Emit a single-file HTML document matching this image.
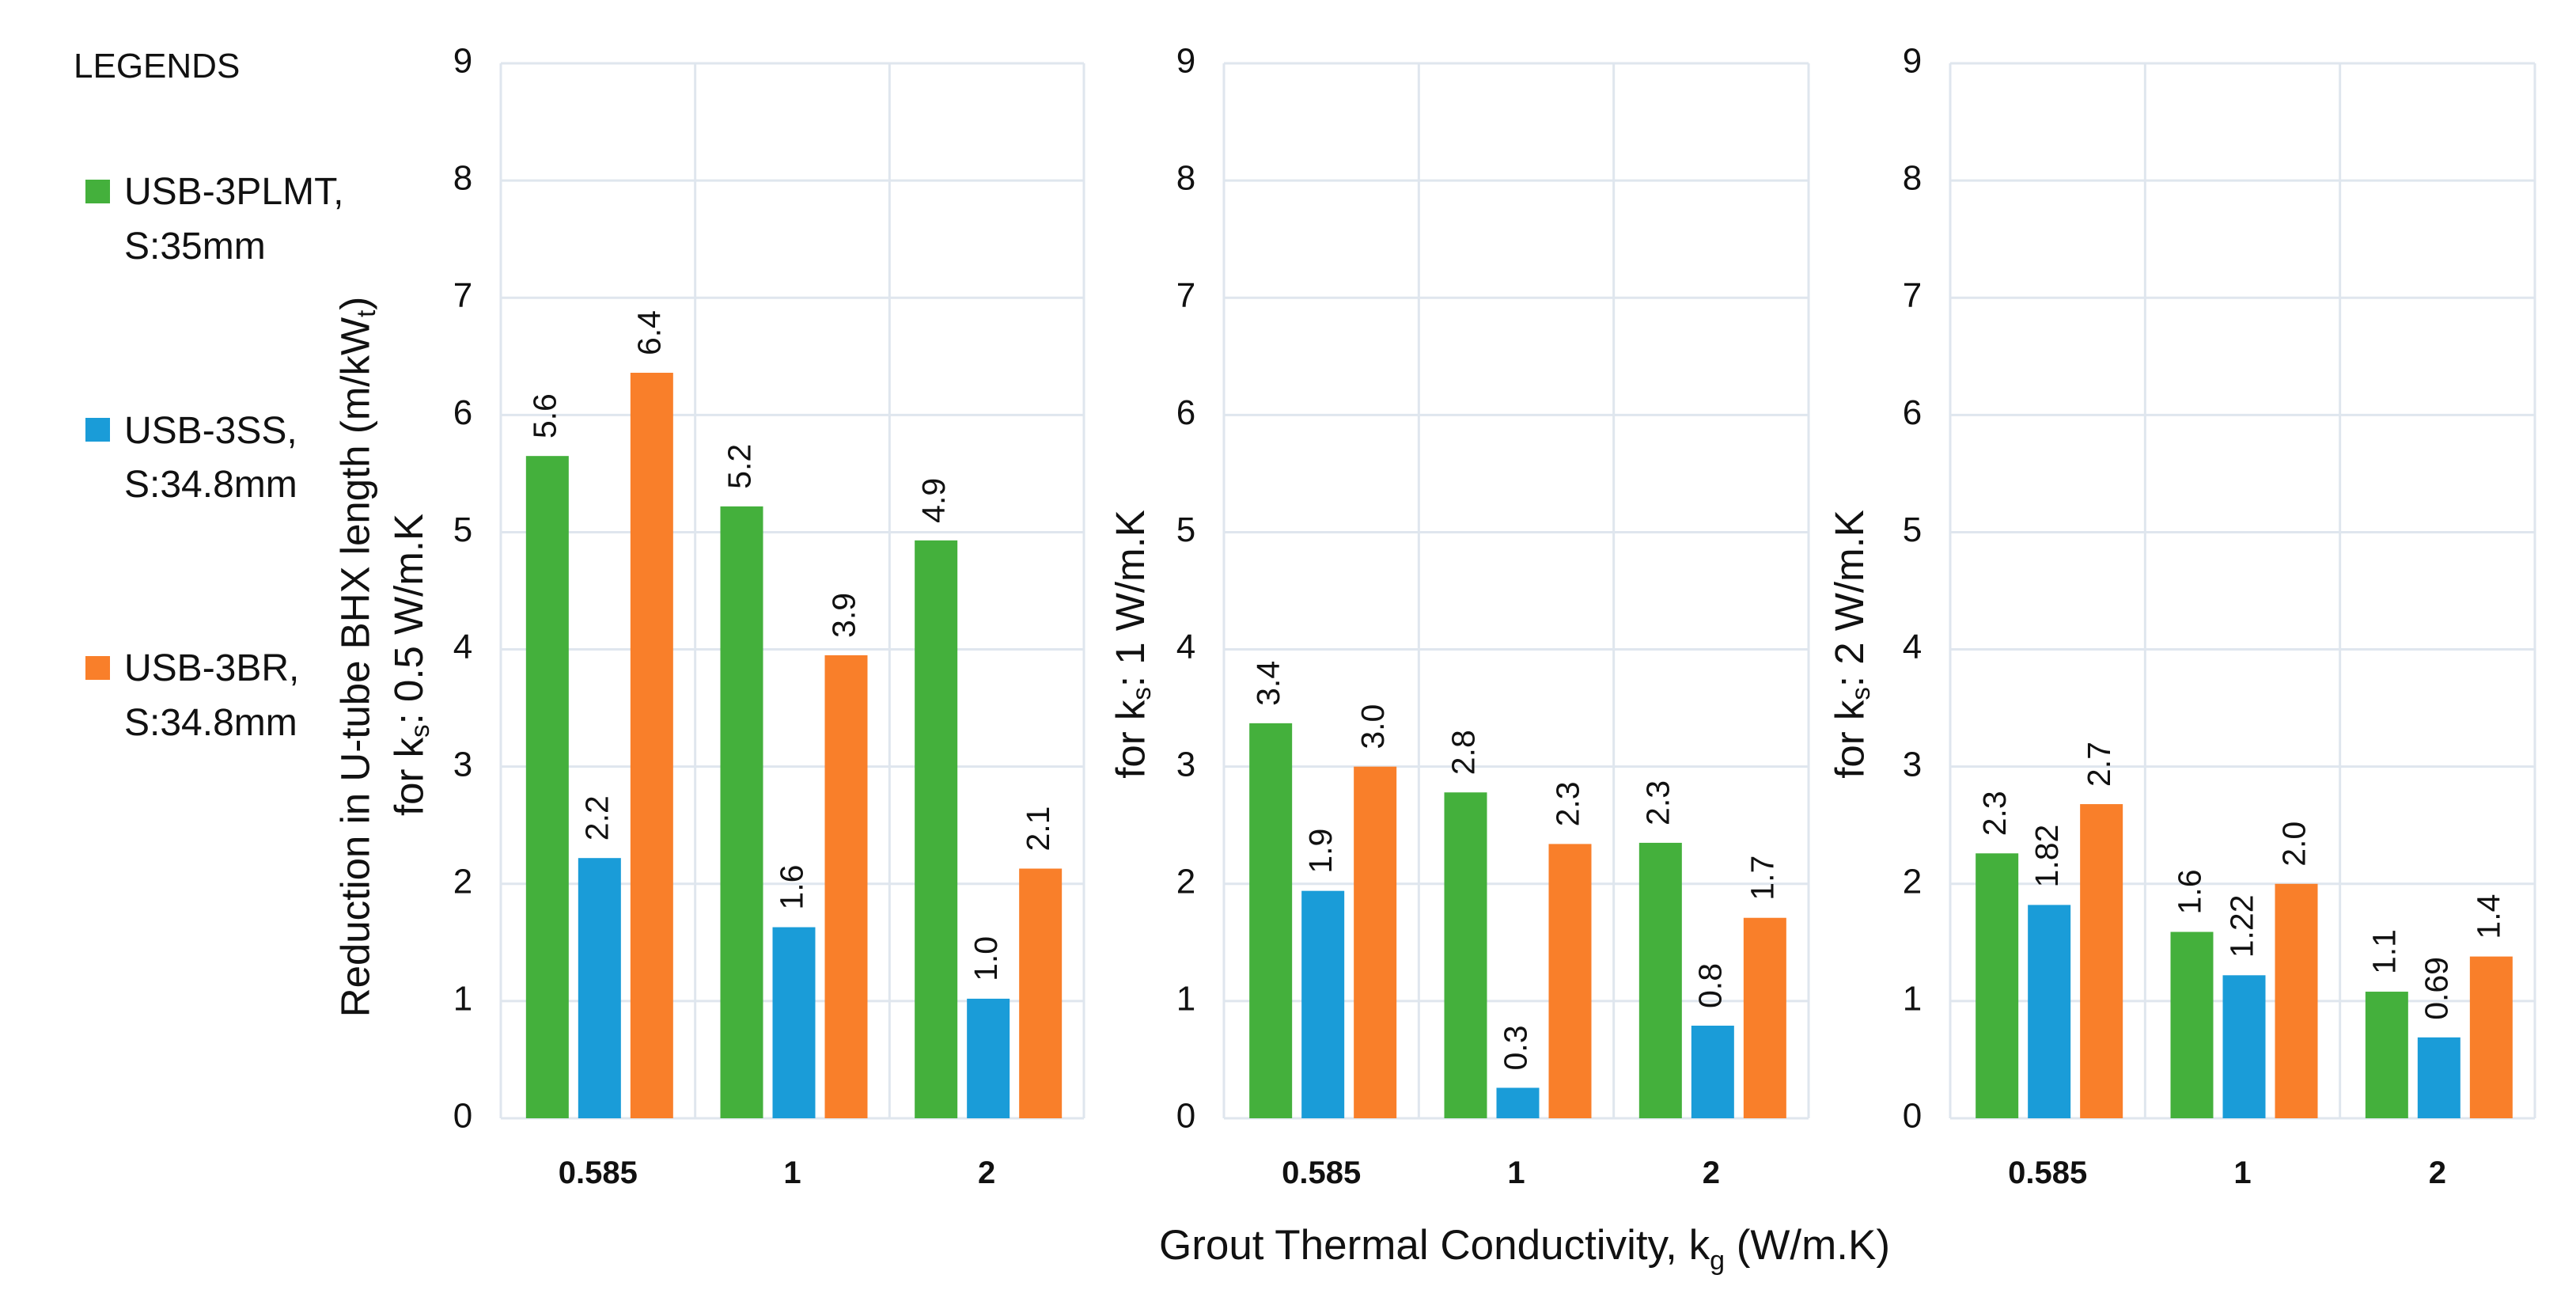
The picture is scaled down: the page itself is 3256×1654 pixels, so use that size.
<!DOCTYPE html>
<html><head><meta charset="utf-8"><style>
html,body{margin:0;padding:0;background:#fff;}
svg{display:block;font-family:"Liberation Sans","DejaVu Sans",sans-serif;}
</style></head><body>
<svg id="chart" width="3256" height="1654" viewBox="0 0 3256 1654" xmlns="http://www.w3.org/2000/svg">
<g>
 <text x="93" y="98" font-size="44" fill="#111">LEGENDS</text>
 <g>
  <rect x="108" y="227" width="31" height="30" fill="#44b03c"/>
  <text x="157" y="258" font-size="48" fill="#111">USB-3PLMT,</text>
  <text x="157" y="327" font-size="48" fill="#111">S:35mm</text>
 </g>
 <g>
  <rect x="108" y="528" width="31" height="30" fill="#1a9cd8"/>
  <text x="157" y="560" font-size="48" fill="#111">USB-3SS,</text>
  <text x="157" y="628" font-size="48" fill="#111">S:34.8mm</text>
 </g>
 <g>
  <rect x="108" y="829" width="31" height="30" fill="#f97f2a"/>
  <text x="157" y="860" font-size="48" fill="#111">USB-3BR,</text>
  <text x="157" y="929" font-size="48" fill="#111">S:34.8mm</text>
 </g>
</g>
<text x="453" y="830" font-size="51" fill="#111" text-anchor="middle" transform="rotate(-90 453 830)" dominant-baseline="middle">Reduction in U-tube BHX length (m/kW<tspan font-size="33" dy="12">t</tspan><tspan dy="-12">)</tspan></text>
<text x="521" y="840" font-size="51" fill="#111" text-anchor="middle" transform="rotate(-90 521 840)" dominant-baseline="middle">for k<tspan font-size="33" dy="12">s</tspan><tspan dy="-12">: 0.5 W/m.K</tspan></text>
<text x="1433" y="814" font-size="51" fill="#111" text-anchor="middle" transform="rotate(-90 1433 814)" dominant-baseline="middle">for k<tspan font-size="33" dy="12">s</tspan><tspan dy="-12">: 1 W/m.K</tspan></text>
<text x="2342" y="814" font-size="51" fill="#111" text-anchor="middle" transform="rotate(-90 2342 814)" dominant-baseline="middle">for k<tspan font-size="33" dy="12">s</tspan><tspan dy="-12">: 2 W/m.K</tspan></text>
<text x="1927" y="1591" font-size="53" fill="#111" text-anchor="middle">Grout Thermal Conductivity,  k<tspan font-size="34" dy="13">g</tspan><tspan dy="-13"> (W/m.K)</tspan></text>
<g id="plots"></g>
</svg>
<script>
const categories = ["0.585", "1", "2"];
const seriesNames = ["USB-3PLMT", "USB-3SS", "USB-3BR"];
const yTicks = [0,1,2,3,4,5,6,7,8,9];
const p1Green = [5.65, 5.22, 4.93];
const p1Blue = [2.22, 1.63, 1.02];
const p1Orange = [6.36, 3.95, 2.13];
const p1Labels = [["5.6","5.2","4.9"],["2.2","1.6","1.0"],["6.4","3.9","2.1"]];
const p2Green = [3.37, 2.78, 2.35];
const p2Blue = [1.94, 0.26, 0.79];
const p2Orange = [3.0, 2.34, 1.71];
const p2Labels = [["3.4","2.8","2.3"],["1.9","0.3","0.8"],["3.0","2.3","1.7"]];
const p3Green = [2.26, 1.59, 1.08];
const p3Blue = [1.82, 1.22, 0.69];
const p3Orange = [2.68, 2.0, 1.38];
const p3Labels = [["2.3","1.6","1.1"],["1.82","1.22","0.69"],["2.7","2.0","1.4"]];

const NS = "http://www.w3.org/2000/svg";
const colors = ["#44b03c", "#1a9cd8", "#f97f2a"];
const yTop = 80, yBot = 1413, yMax = 9;
function yScale(v){ return yBot - (v / yMax) * (yBot - yTop); }
function mk(tag, attrs, parent){ const e = document.createElementNS(NS, tag); for (const k in attrs) e.setAttribute(k, attrs[k]); parent.appendChild(e); return e; }
const plots = document.getElementById("plots");
const panels = [
 {x0:633, x1:1370, tx:585, data:[p1Green,p1Blue,p1Orange], labels:p1Labels},
 {x0:1547, x1:2286, tx:1499, data:[p2Green,p2Blue,p2Orange], labels:p2Labels},
 {x0:2465, x1:3204, tx:2417, data:[p3Green,p3Blue,p3Orange], labels:p3Labels}
];
panels.forEach((p, pi) => {
 const g = mk("g", {}, plots);
 
 
 yTicks.forEach(t => {
  const y = yScale(t);
  const l = mk("line", {x1:p.x0, x2:p.x1, y1:y, y2:y, stroke:"#dfe6ee", "stroke-width":3}, g);
  
  
  const tl = mk("text", {x:p.tx, y:y, "font-size":44, fill:"#111", "text-anchor":"middle", "dominant-baseline":"middle"}, g);
  tl.textContent = t;
  
  
 });
 const cw = (p.x1 - p.x0) / categories.length;
 for (let i = 0; i <= categories.length; i++) {
  const x = p.x0 + i * cw;
  const v = mk("line", {x1:x, x2:x, y1:yTop, y2:yBot, stroke:"#dfe6ee", "stroke-width":3}, g);
  
  
 }
 const bw = 54, gap = 12;
 categories.forEach((c, ci) => {
  const cx = p.x0 + cw * (ci + 0.5) + 2;
  const start = cx - (3*bw + 2*gap)/2;
  p.data.forEach((arr, si) => {
   const x = start + si * (bw + gap);
   const y = yScale(arr[ci]);
   const r = mk("rect", {x:x, y:y, width:bw, height:yBot - y, fill:colors[si]}, g);
   
   
   const lx = x + bw/2, ly = y - 22;
   const t = mk("text", {x:lx, y:ly, "font-size":41, fill:"#111", "dominant-baseline":"middle", transform:"rotate(-90 " + lx + " " + ly + ")"}, g);
   t.textContent = p.labels[si][ci];
   
   
  });
  const cl = mk("text", {x:p.x0 + cw*(ci+0.5), y:1495, "font-size":40, "font-weight":"bold", fill:"#111", "text-anchor":"middle"}, g);
  cl.textContent = c;
  
  
 });
});
</script>
</body></html>
